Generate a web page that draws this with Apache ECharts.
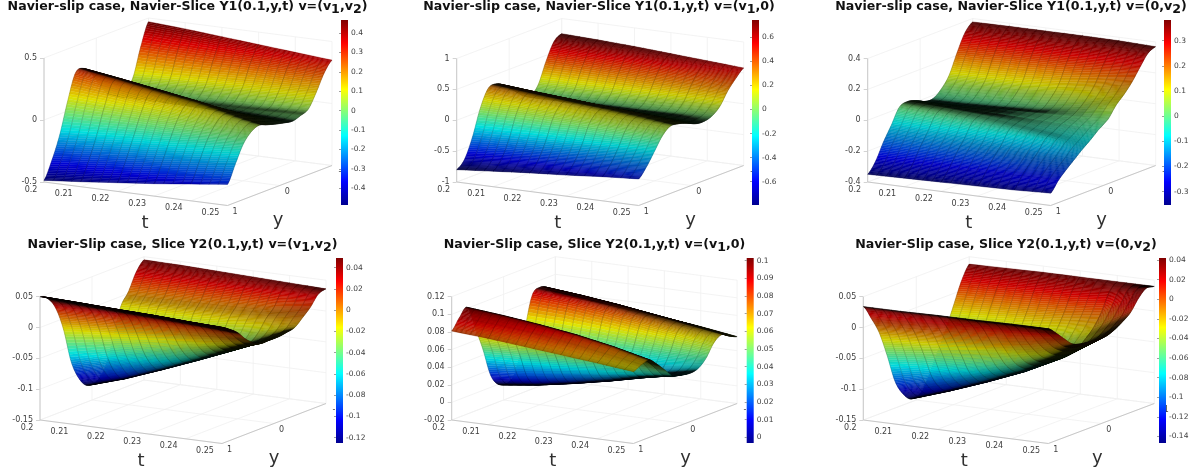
<!DOCTYPE html>
<html><head><meta charset="utf-8">
<style>html,body{margin:0;padding:0;background:#fff}#c{width:1194px;height:473px}</style>
<script src="https://cdn.jsdelivr.net/npm/echarts@6/dist/echarts.min.js"></script>
</head><body><div id="c"></div>
<script>
// ---- data ----
const ts = [0.2, 0.21, 0.22, 0.23, 0.24, 0.25];
const ys = [1, .85, .7, .55, .4, .25, .1, -.1, -.25, -.4, -.55, -.7, -.85, -1];
const tTicks = [0.2, 0.21, 0.22, 0.23, 0.24, 0.25];
const yTicks = [1, 0, -1];
// each row is one y of ys, each column one t of ts
const z1 = [
 [-.487,-.46,-.43,-.40,-.365,-.33],
 [-.35,-.32,-.29,-.26,-.225,-.19],
 [-.17,-.145,-.12,-.10,-.075,-.055],
 [.075,.065,.055,.045,.03,.02],
 [.28,.235,.185,.135,.09,.05],
 [.295,.25,.2,.15,.09,.03],
 [.23,.19,.15,.105,.06,.01],
 [.09,.075,.055,.035,.015,-.01],
 [0,0,-.005,-.01,-.015,-.02],
 [-.02,-.02,-.015,-.01,-.005,0],
 [-.01,0,.005,.015,.02,.03],
 [.065,.08,.095,.11,.125,.14],
 [.29,.285,.28,.28,.275,.27],
 [.47,.45,.425,.40,.375,.35]];
const z2 = [
 [-.80,-.75,-.70,-.66,-.61,-.57],
 [-.68,-.62,-.57,-.52,-.47,-.42],
 [-.37,-.34,-.31,-.28,-.25,-.22],
 [.05,.05,.04,.03,.01,-.02],
 [.32,.27,.22,.17,.13,.09],
 [.345,.29,.24,.19,.14,.08],
 [.27,.22,.18,.13,.09,.04],
 [.12,.09,.06,.03,0,-.03],
 [0,-.01,-.02,-.03,-.03,-.04],
 [-.06,-.05,-.04,-.03,-.02,0],
 [.07,.07,.08,.09,.10,.11],
 [.40,.39,.37,.35,.33,.31],
 [.67,.64,.61,.57,.52,.46],
 [.755,.73,.70,.66,.62,.58]];
const z3 = [
 [-.35,-.345,-.34,-.335,-.33,-.32],
 [-.285,-.28,-.275,-.27,-.26,-.255],
 [-.18,-.185,-.19,-.195,-.2,-.205],
 [-.09,-.10,-.115,-.13,-.145,-.16],
 [.005,-.01,-.03,-.05,-.075,-.115],
 [.023,.012,-.005,-.025,-.05,-.075],
 [.01,.003,-.005,-.012,-.02,-.03],
 [-.02,-.018,-.012,-.004,.006,.02],
 [-.02,-.017,-.008,.008,.04,.09],
 [.02,.025,.035,.055,.09,.14],
 [.09,.095,.105,.125,.16,.2],
 [.215,.225,.235,.245,.26,.275],
 [.325,.33,.335,.34,.345,.345],
 [.378,.38,.38,.38,.378,.37]];
const z4 = [
 [.05,.048,.045,.043,.04,.038],
 [.042,.04,.038,.036,.033,.03],
 [.022,.023,.023,.023,.022,.02],
 [-.017,-.012,-.007,-.002,.002,.005],
 [-.075,-.06,-.045,-.03,-.018,-.006],
 [-.107,-.09,-.07,-.05,-.03,-.012],
 [-.123,-.105,-.083,-.06,-.036,-.012],
 [-.122,-.103,-.082,-.06,-.037,-.012],
 [-.105,-.09,-.072,-.054,-.034,-.01],
 [-.065,-.056,-.046,-.035,-.023,-.007],
 [-.017,-.015,-.013,-.01,-.005,.004],
 [.003,.004,.005,.006,.008,.016],
 [.03,.03,.03,.03,.03,.032],
 [.045,.044,.042,.04,.038,.036]];
const z5 = [
 [.081,.078,.074,.07,.066,.0615],
 [.093,.09,.086,.08,.073,.066],
 [.101,.097,.092,.086,.078,.068],
 [.075,.074,.072,.070,.066,.06],
 [.047,.048,.05,.051,.052,.05],
 [.014,.018,.024,.03,.036,.04],
 [0,.005,.012,.02,.029,.037],
 [-.002,.003,.01,.018,.027,.035],
 [.01,.013,.018,.024,.03,.037],
 [.048,.048,.047,.046,.045,.045],
 [.086,.083,.078,.072,.066,.059],
 [.092,.088,.083,.077,.071,.065],
 [.088,.084,.079,.073,.067,.06],
 [.077,.075,.071,.067,.062,.056]];
const z6 = [
 [.034,.034,.035,.035,.036,.036],
 [.01,.012,.015,.018,.021,.024],
 [-.018,-.015,-.012,-.008,-.002,.01],
 [-.06,-.052,-.043,-.034,-.022,-.003],
 [-.107,-.092,-.076,-.058,-.037,-.008],
 [-.132,-.114,-.094,-.072,-.045,-.01],
 [-.145,-.125,-.103,-.079,-.05,-.011],
 [-.14,-.122,-.101,-.078,-.049,-.011],
 [-.115,-.102,-.086,-.068,-.044,-.006],
 [-.085,-.077,-.066,-.053,-.033,.002],
 [-.055,-.049,-.041,-.032,-.02,.012],
 [-.02,-.016,-.012,-.007,0,.03],
 [.015,.017,.02,.023,.028,.042],
 [.038,.039,.04,.04,.04,.04]];
const zTicks1 = [-.5,0,.5];
const zTicks2 = [-1,-.5,0,.5,1];
const zTicks3 = [-.4,-.2,0,.2,.4];
const zTicks4 = [-.15,-.1,-.05,0,.05];
const zTicks5 = [-.02,0,.02,.04,.06,.08,.1,.12];
const zTicks6 = [-.15,-.1,-.05,0,.05];
const cTicks1 = [-.4,-.3,-.2,-.1,0,.1,.2,.3,.4];
const cTicks2 = [-.6,-.4,-.2,0,.2,.4,.6];
const cTicks3 = [-.3,-.2,-.1,0,.1,.2,.3];
const cTicks4 = [-.12,-.1,-.08,-.06,-.04,-.02,0,.02,.04];
const cTicks5 = [0,.01,.02,.03,.04,.05,.06,.07,.08,.09,.1];
const cTicks6 = [-.14,-.12,-.1,-.08,-.06,-.04,-.02,0,.02,.04];
const cRange1 = [-.486,.467], cRange2 = [-.794,.744], cRange3 = [-.353,.382];
const cRange4 = [-.125,.049], cRange5 = [-.0032,.1015], cRange6 = [-.1466,.042];
const titles = [
 '{m|Navier-slip case, Navier-Slice Y1(0.1,y,t) v=(v}{s|1}{m|,v}{s|2}{m|)}',
 '{m|Navier-slip case, Navier-Slice Y1(0.1,y,t) v=(v}{s|1}{m|,0)}',
 '{m|Navier-slip case, Navier-Slice Y1(0.1,y,t) v=(0,v}{s|2}{m|)}',
 '{m|Navier-Slip case, Slice Y2(0.1,y,t) v=(v}{s|1}{m|,v}{s|2}{m|)}',
 '{m|Navier-Slip case, Slice Y2(0.1,y,t) v=(v}{s|1}{m|,0)}',
 '{m|Navier-Slip case, Slice Y2(0.1,y,t) v=(0,v}{s|2}{m|)}'
];
const jetStops = [[0,'#000090'],[.125,'#0000ff'],[.375,'#00ffff'],[.625,'#ffff00'],[.875,'#ff0000'],[1,'#800000']];

// ---- layout ----
const FONT = '"DejaVu Sans"';
const panels = [
 {o:[44,182],  h:124,   tv:[183.5,23.5],yv:[104.5,-40],z:z1,zt:zTicks1,zr:[-.5,.5],  ct:cTicks1,cr:cRange1,bar:[341,20],ti:[187.5,0]},
 {o:[456.7,182],h:123.5,tv:[182,23.5],yv:[105,-40],z:z2,zt:zTicks2,zr:[-1,1],     ct:cTicks2,cr:cRange2,bar:[752,20],ti:[599,0]},
 {o:[867.7,182],h:123.5,tv:[183,23.5],yv:[105,-40],z:z3,zt:zTicks3,zr:[-.4,.4],   ct:cTicks3,cr:cRange3,bar:[1164,20],ti:[1011,0]},
 {o:[40,420],  h:123.3, tv:[182,23.5],yv:[104,-40],z:z4,zt:zTicks4,zr:[-.15,.05], ct:cTicks4,cr:cRange4,bar:[336,258],ti:[182.5,238]},
 {o:[451.7,420],h:123.3,tv:[181.7,23.5],yv:[103.7,-40],z:z5,zt:zTicks5,zr:[-.02,.12],ct:cTicks5,cr:cRange5,bar:[746.7,258],ti:[594.5,238]},
 {o:[863.3,420],h:123.3,tv:[185,23.5],yv:[106,-40],z:z6,zt:zTicks6,zr:[-.15,.05], ct:cTicks6,cr:cRange6,bar:[1159,258],ti:[1006,238]}
];
const PAD_T = 44, PAD_B = 45, GRIDC = '#f0f0f0', AXC = '#c8c8c8', TXT = '#404040';

// jet colour, darkened by `shade` (0..1) for the density of the mesh lines
function jet(f,shade){
  f = Math.max(0,Math.min(1,f));
  const k=1-shade;
  for (let i=1;i<jetStops.length;i++){
    if (f<=jetStops[i][0]){
      const a=jetStops[i-1],b=jetStops[i],u=(f-a[0])/(b[0]-a[0]);
      const ca=parseInt(a[1].slice(1),16),cb=parseInt(b[1].slice(1),16);
      const m=s=>Math.round((((ca>>s)&255)*(1-u)+((cb>>s)&255)*u)*k);
      return 'rgb('+m(16)+','+m(8)+','+m(0)+')';
    }
  }
  return jetStops[jetStops.length-1][1];
}
function cr(a,b,c,d,u){return .5*(2*b+(c-a)*u+(2*a-5*b+4*c-d)*u*u+(3*b-a-3*c+d)*u*u*u);}

const grid=[],xAxis=[],yAxis=[],series=[],title=[];
const YSUB=12,TSUB=4,LINE_W=.36,LINE_A=.92;
const YLINE={stroke:'rgba(0,0,0,.14)',lineWidth:.5,fill:null};
const TLINE={stroke:'rgba(0,0,0,.3)',lineWidth:.55,fill:null};
panels.forEach((P,pi)=>{
  const pxz=P.h/(P.zr[1]-P.zr[0]);
  const project=(api,t,y,z)=>{
    const tf=(t-ts[0])/(ts[ts.length-1]-ts[0]), yf=(1-y)/2;
    const X=tf*P.tv[0]+yf*P.yv[0];
    const down=tf*P.tv[1]+yf*P.yv[1];
    return api.coord([X,z-down/pxz]);
  };
  const g0=grid.length;
  grid.push({left:P.o[0],top:P.o[1]-P.h-PAD_T,width:300,height:P.h+PAD_T+PAD_B});
  xAxis.push({gridIndex:g0,type:'value',min:0,max:300,show:false});
  yAxis.push({gridIndex:g0,type:'value',min:P.zr[0]-PAD_B/pxz,max:P.zr[1]+PAD_T/pxz,
    splitLine:{show:false},axisLine:{show:false},
    axisTick:{show:true,length:4,customValues:P.zt,lineStyle:{color:AXC,width:.8}},
    axisLabel:{customValues:P.zt,margin:7,fontFamily:FONT,fontSize:8,color:TXT,formatter:v=>String(+(+v).toFixed(3))}});
  const zmin=P.zr[0],zmax=P.zr[1],t0=ts[0],t1=ts[ts.length-1];
  // box, grid lines, tick labels
  const segs=[];
  tTicks.forEach(t=>{
    segs.push([[t,1,zmin],[t,-1,zmin],GRIDC]);
    segs.push([[t,-1,zmin],[t,-1,zmax],GRIDC]);
  });
  yTicks.forEach(y=>{
    segs.push([[t0,y,zmin],[t1,y,zmin],GRIDC]);
    segs.push([[t0,y,zmin],[t0,y,zmax],GRIDC]);
  });
  P.zt.forEach(z=>{
    segs.push([[t0,1,z],[t0,-1,z],GRIDC]);
    segs.push([[t0,-1,z],[t1,-1,z],GRIDC]);
  });
  segs.push([[t0,1,zmin],[t0,1,zmax],AXC]);
  segs.push([[t0,1,zmin],[t1,1,zmin],AXC]);
  segs.push([[t1,1,zmin],[t1,-1,zmin],AXC]);
  series.push({type:'custom',xAxisIndex:g0,yAxisIndex:g0,silent:true,z:1,clip:false,animation:false,
    data:segs.map((s,i)=>[i,0]),
    renderItem:(params,api)=>{
      const s=segs[api.value(0)];
      const a=project(api,s[0][0],s[0][1],s[0][2]),b=project(api,s[1][0],s[1][1],s[1][2]);
      return {type:'line',shape:{x1:a[0],y1:a[1],x2:b[0],y2:b[1]},style:{stroke:s[2],lineWidth:s[2]===AXC?1:.8}};
    }});
  // text on the slanted axes
  const labels=[];
  tTicks.forEach((t,i)=>labels.push({t,y:1,s:String(t),dx:i===0?-13:-17,dy:7.5,a:'center',fs:8}));
  labels.push({t:t1,y:1,s:'1',dx:7.5,dy:6,a:'center',fs:8});
  labels.push({t:t1,y:0,s:'0',dx:7.5,dy:6,a:'center',fs:8});
  labels.push({t:t1,y:-1,s:'-1',dx:6.5,dy:6,a:'left',fs:8});
  labels.push({t:t0,y:1,s:'t',dx:101,dy:41,a:'center',fs:18});
  labels.push({t:t0,y:1,s:'y',dx:234,dy:38,a:'center',fs:18});
  series.push({type:'custom',xAxisIndex:g0,yAxisIndex:g0,silent:true,z:1,clip:false,animation:false,
    data:labels.map((s,i)=>[i,0]),
    renderItem:(params,api)=>{
      const l=labels[api.value(0)];
      const a=project(api,l.t,l.y,zmin);
      return {type:'text',x:a[0]+l.dx,y:a[1]+l.dy,style:{text:l.s,fill:l.fs>10?'#303030':TXT,font:l.fs+'px '+FONT,textAlign:l.a,textVerticalAlign:'middle'}};
    }});
  // surface: back to front, left to right
  const cells=[];
  for(let i=0;i<ys.length-1;i++) for(let j=0;j<ts.length-1;j++) cells.push([ys.length-2-i,j]);
  const Z=P.z, n=ys.length, cmin=P.cr[0], cspan=P.cr[1]-P.cr[0];
  const zAt=(i,j,u)=>cr(Z[Math.max(i-1,0)][j],Z[i][j],Z[i+1][j],Z[Math.min(i+2,n-1)][j],u);
  series.push({type:'custom',xAxisIndex:g0,yAxisIndex:g0,silent:true,z:2,clip:false,animation:false,progressive:0,
    data:cells,
    renderItem:(params,api)=>{
      const i=api.value(0),j=api.value(1),kids=[];
      const tLines=[];
      for(let b=0;b<=TSUB;b++) tLines.push([]);
      for(let a=YSUB-1;a>=0;a--){
        const u0=a/YSUB,u1=(a+1)/YSUB;
        const y0=ys[i]+(ys[i+1]-ys[i])*u0, y1=ys[i]+(ys[i+1]-ys[i])*u1;
        const zu0a=zAt(i,j,u0),zu0b=zAt(i,j+1,u0),zu1a=zAt(i,j,u1),zu1b=zAt(i,j+1,u1);
        const frontLine=[];
        for(let b=0;b<TSUB;b++){
          const v0=b/TSUB,v1=(b+1)/TSUB;
          const t0c=ts[j]+(ts[j+1]-ts[j])*v0,t1c=ts[j]+(ts[j+1]-ts[j])*v1;
          const z00=zu0a*(1-v0)+zu0b*v0, z01=zu0a*(1-v1)+zu0b*v1;
          const z10=zu1a*(1-v0)+zu1b*v0, z11=zu1a*(1-v1)+zu1b*v1;
          const p00=project(api,t0c,y0,z00),p01=project(api,t1c,y0,z01),p10=project(api,t0c,y1,z10),p11=project(api,t1c,y1,z11);
          // distance on screen between neighbouring mesh lines of constant y
          const dx=p01[0]-p00[0],dy=p01[1]-p00[1],len=Math.hypot(dx,dy)||1;
          const gap=Math.abs((p10[0]-p00[0])*dy-(p10[1]-p00[1])*dx)/len;
          const shade=LINE_A*Math.min(1,LINE_W/Math.max(gap,.01));
          const col=jet(((z00+z01+z10+z11)/4-cmin)/cspan,shade);
          kids.push({type:'polygon',shape:{points:[p00,p01,p11,p10]},style:{fill:col,stroke:col,lineWidth:.35}});
          frontLine.push(p00);
          if(b===TSUB-1) frontLine.push(p01);
          if(a===YSUB-1) tLines[b].push(p10);
          tLines[b].push(p00);
          if(b===TSUB-1){ if(a===YSUB-1) tLines[TSUB].push(p11); tLines[TSUB].push(p01); }
        }
        if(a%3===0) kids.push({type:'polyline',shape:{points:frontLine},style:YLINE});
      }
      tLines.forEach(pts=>kids.push({type:'polyline',shape:{points:pts},style:TLINE}));
      return {type:'group',children:kids};
    }});
  // colour bar
  const g1=grid.length;
  grid.push({left:P.bar[0],top:P.bar[1],width:7,height:185});
  xAxis.push({gridIndex:g1,type:'value',min:0,max:1,show:false});
  yAxis.push({gridIndex:g1,type:'value',position:'right',min:P.cr[0],max:P.cr[1],z:6,
    splitLine:{show:false},axisLine:{show:false},
    axisTick:{show:true,inside:true,length:2,customValues:P.ct,lineStyle:{color:'#404040',width:.5}},
    axisLabel:{customValues:P.ct,margin:3,fontFamily:FONT,fontSize:7.5,color:TXT,formatter:v=>String(+(+v).toFixed(3))}});
  series.push({type:'custom',xAxisIndex:g1,yAxisIndex:g1,silent:true,z:5,animation:false,clip:false,
    data:[[0,P.cr[1],1,P.cr[0]]],
    renderItem:(params,api)=>{
      const a=api.coord([api.value(0),api.value(1)]),b=api.coord([api.value(2),api.value(3)]);
      return {type:'rect',shape:{x:a[0],y:a[1],width:b[0]-a[0],height:b[1]-a[1]},
        style:{fill:{type:'linear',x:0,y:1,x2:0,y2:0,colorStops:jetStops.map(s=>({offset:s[0],color:s[1]}))}}};
    }});
  title.push({text:titles[pi],left:P.ti[0],top:P.ti[1],textAlign:'center',padding:0,
    textStyle:{rich:{
      m:{fontFamily:FONT,fontWeight:'bold',fontSize:12.6,color:'#111',lineHeight:13,verticalAlign:'top'},
      s:{fontFamily:FONT,fontWeight:'bold',fontSize:12.6,color:'#111',lineHeight:13,padding:[7,0,0,0]}
    }}});
});
const chart=echarts.init(document.getElementById('c'),null,{renderer:'canvas',width:1194,height:473});
chart.setOption({animation:false,backgroundColor:'#fff',title,grid,xAxis,yAxis,series});
</script></body></html>
